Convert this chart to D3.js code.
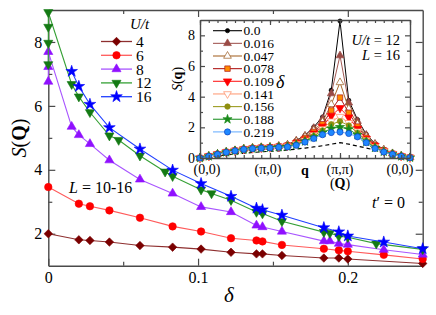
<!DOCTYPE html>
<html>
<head>
<meta charset="utf-8">
<script src="https://cdn.jsdelivr.net/npm/d3@7"></script>
<style>
body { margin: 0; background: #fff; }
</style>
</head>
<body>
<svg id="chart" width="436" height="315"></svg>
<script>
// ---- main panel: S(Q) vs doping, one series per U/t
var uLabels = ["4", "6", "8", "12", "16"];

var deltaU4 = [0, 0.0204, 0.0278, 0.0408, 0.0612, 0.083, 0.102, 0.122, 0.139, 0.143, 0.156, 0.184, 0.194, 0.2, 0.25];
var sU4 = [2.0, 1.81, 1.79, 1.74, 1.63, 1.58, 1.52, 1.42, 1.37, 1.37, 1.32, 1.24, 1.24, 1.21, 1.07];

var deltaU6 = [0, 0.0204, 0.0278, 0.0408, 0.0612, 0.083, 0.102, 0.122, 0.139, 0.143, 0.156, 0.184, 0.194, 0.2, 0.224, 0.25];
var sU6 = [3.46, 2.94, 2.86, 2.73, 2.50, 2.23, 2.07, 1.86, 1.79, 1.76, 1.65, 1.53, 1.48, 1.45, 1.34, 1.21];

var deltaU8 = [0, 0, 0, 0.0156, 0.0204, 0.0278, 0.0408, 0.0612, 0.083, 0.102, 0.122, 0.139, 0.143, 0.156, 0.184, 0.188, 0.194, 0.2, 0.224, 0.25];
var sU8 = [6.76, 7.22, 7.69, 5.35, 5.09, 4.81, 4.30, 3.70, 3.26, 2.84, 2.68, 2.26, 2.21, 2.07, 1.77, 1.77, 1.69, 1.66, 1.50, 1.35];

var deltaU12 = [0, 0, 0, 0, 0.0156, 0.0204, 0.0278, 0.0408, 0.047, 0.0612, 0.078, 0.083, 0.102, 0.109, 0.122, 0.139, 0.143, 0.156, 0.184, 0.188, 0.194, 0.2, 0.219, 0.25];
var sU12 = [7.30, 7.97, 8.47, 8.93, 6.68, 6.29, 5.80, 5.07, 4.93, 4.44, 3.94, 3.80, 3.38, 3.26, 3.05, 2.68, 2.63, 2.39, 2.05, 2.02, 1.92, 1.89, 1.69, 1.51];

var deltaU16 = [0.0156, 0.0204, 0.0278, 0.0408, 0.0612, 0.083, 0.102, 0.122, 0.139, 0.143, 0.156, 0.184, 0.194, 0.2, 0.224, 0.25];
var sU16 = [7.08, 6.61, 6.05, 5.32, 4.65, 3.99, 3.57, 3.17, 2.80, 2.75, 2.58, 2.19, 2.06, 1.93, 1.74, 1.53];

var xMajor = [0, 0.1, 0.2];
var xMinor = [0.05, 0.15];
var yMajor = [2, 4, 6, 8];
var yMinor = [3, 5, 7];

// ---- inset: S(q) along (0,0)-(pi,0)-(pi,pi)-(0,0), U/t=12, L=16
var qLabels = ["(0,0)", "(\u03c0,0)", "(\u03c0,\u03c0)", "(0,0)"];
var qLabelIdx = [0, 8, 16, 24];
var deltaLabels = ["0.0", "0.016", "0.047", "0.078", "0.109", "0.141", "0.156", "0.188", "0.219"];

var sqD000 = [0.00,0.12,0.26,0.40,0.50,0.60,0.66,0.70,0.72,0.78,0.86,1.15,1.48,2.02,2.67,4.42,8.93,3.76,2.50,1.55,0.94,0.55,0.30,0.14,0.03];
var sqD016 = [0.00,0.12,0.26,0.40,0.50,0.60,0.66,0.70,0.72,0.78,0.86,1.13,1.45,1.95,2.55,4.20,6.68,3.60,2.40,1.50,0.92,0.54,0.30,0.14,0.03];
var sqD047 = [0.00,0.12,0.26,0.39,0.49,0.59,0.65,0.69,0.71,0.77,0.84,1.08,1.38,1.80,2.35,3.50,4.93,3.20,2.20,1.40,0.88,0.52,0.29,0.13,0.03];
var sqD078 = [0.00,0.12,0.25,0.39,0.48,0.58,0.64,0.68,0.70,0.75,0.82,1.02,1.30,1.70,2.20,3.10,3.94,2.95,2.05,1.32,0.84,0.50,0.28,0.13,0.03];
var sqD109 = [0.00,0.12,0.25,0.38,0.48,0.58,0.63,0.67,0.69,0.74,0.80,0.97,1.22,1.60,2.05,2.75,3.26,2.65,1.90,1.25,0.80,0.47,0.27,0.12,0.03];
var sqD141 = [0.00,0.11,0.25,0.38,0.47,0.57,0.62,0.66,0.68,0.73,0.78,0.93,1.16,1.50,1.90,2.40,2.70,2.30,1.75,1.18,0.74,0.45,0.26,0.12,0.02];
var sqD156 = [0.00,0.11,0.24,0.38,0.47,0.57,0.62,0.65,0.68,0.72,0.76,0.90,1.12,1.43,1.80,2.20,2.39,2.12,1.65,1.12,0.70,0.43,0.25,0.12,0.02];
var sqD188 = [0.00,0.11,0.24,0.37,0.46,0.56,0.61,0.65,0.67,0.71,0.74,0.86,1.08,1.35,1.65,1.92,2.02,1.88,1.50,1.05,0.66,0.41,0.25,0.11,0.02];
var sqD219 = [0.00,0.11,0.24,0.37,0.46,0.56,0.61,0.64,0.66,0.70,0.72,0.83,1.04,1.27,1.52,1.66,1.69,1.60,1.38,1.00,0.62,0.39,0.24,0.11,0.02];
// dashed reference curve
var sqRef = [0.00,0.07,0.14,0.20,0.26,0.31,0.36,0.40,0.44,0.47,0.52,0.58,0.65,0.72,0.80,0.90,1.00,0.90,0.78,0.65,0.52,0.40,0.28,0.16,0.05];

var axisColor = "#4a4a4a";
var serif = "Liberation Serif";

// diamond that is as wide as it is tall
var symDiamond = {
  draw: function(ctx, size) {
    var r = Math.sqrt(size / 2);
    ctx.moveTo(0, -r); ctx.lineTo(r, 0); ctx.lineTo(0, r); ctx.lineTo(-r, 0); ctx.closePath();
  }
};

var svg = d3.select("#chart");

var x = d3.scaleLinear().domain([0, 0.25]).range([48.3, 422.7]);
var y = d3.scaleLinear().domain([1, 9]).range([265.7, 10]);

var mainSeries = [
  {name: uLabels[0], d: deltaU4, s: sU4, line: "#8e2f2f", fill: "#7a0000", stroke: "#7a0000", sym: symDiamond, size: 36, rot: 0},
  {name: uLabels[1], d: deltaU6, s: sU6, line: "#ff5a5a", fill: "#ff0000", stroke: "#ff0000", sym: d3.symbolCircle, size: 44, rot: 0},
  {name: uLabels[2], d: deltaU8, s: sU8, line: "#a855ff", fill: "#9010ff", stroke: "#9010ff", sym: d3.symbolTriangle, size: 36, rot: 0},
  {name: uLabels[3], d: deltaU12, s: sU12, line: "#35a035", fill: "#147a14", stroke: "#147a14", sym: d3.symbolTriangle, size: 36, rot: 180},
  {name: uLabels[4], d: deltaU16, s: sU16, line: "#2040ff", fill: "#0000ff", stroke: "#0000ff", sym: d3.symbolStar, size: 42, rot: 0}
];

// axes, ticks inward on all four sides
function frameAxes(g, xs, ys, xTicks, xMinorTicks, yTicks, yMinorTicks, major, minor, labels) {
  var x0 = xs.range()[0], x1 = xs.range()[1], y0 = ys.range()[0], y1 = ys.range()[1];
  var sides = [
    {a: d3.axisBottom(xs), t: "translate(0," + y0 + ")", ticks: xTicks, minorTicks: xMinorTicks, lab: labels},
    {a: d3.axisTop(xs), t: "translate(0," + y1 + ")", ticks: xTicks, minorTicks: xMinorTicks, lab: false},
    {a: d3.axisLeft(ys), t: "translate(" + x0 + ",0)", ticks: yTicks, minorTicks: yMinorTicks, lab: labels},
    {a: d3.axisRight(ys), t: "translate(" + x1 + ",0)", ticks: yTicks, minorTicks: yMinorTicks, lab: false}
  ];
  sides.forEach(function(sd) {
    var ga = g.append("g").attr("transform", sd.t)
      .call(sd.a.tickValues(sd.ticks).tickSizeInner(-major).tickSizeOuter(0).tickPadding(6)
        .tickFormat(sd.lab ? d3.format("") : ""));
    ga.attr("font-size", 16);
    ga.select(".domain").attr("stroke", axisColor).attr("stroke-width", 1.4);
    ga.selectAll(".tick line").attr("stroke", axisColor).attr("stroke-width", 1.2);
    ga.selectAll("text").attr("fill", "#000");
    var gm = g.append("g").attr("transform", sd.t)
      .call(sd.a.tickValues(sd.minorTicks).tickSizeInner(-minor).tickSizeOuter(0).tickFormat(""));
    gm.select(".domain").remove();
    gm.selectAll(".tick line").attr("stroke", axisColor).attr("stroke-width", 1.2);
  });
}

var gMain = svg.append("g");
frameAxes(gMain, x, y, xMajor, xMinor, yMajor, yMinor, 7, 4, true);

var line = d3.line().x(function(p) { return x(p[0]); }).y(function(p) { return y(p[1]); });

mainSeries.forEach(function(sr) {
  var pts = sr.d.map(function(dv, i) { return [dv, sr.s[i]]; });
  gMain.append("path").attr("d", line(pts)).attr("fill", "none")
    .attr("stroke", sr.line).attr("stroke-width", 1.1);
  gMain.selectAll(null).data(pts).enter().append("path")
    .attr("d", d3.symbol().type(sr.sym).size(sr.size))
    .attr("transform", function(p) { return "translate(" + x(p[0]) + "," + y(p[1]) + ") rotate(" + sr.rot + ")"; })
    .attr("fill", sr.fill).attr("stroke", sr.stroke).attr("stroke-width", 0.6);
});

// main legend
var leg = gMain.append("g");
leg.append("text").attr("x", 130).attr("y", 29).attr("font-size", 15).attr("font-style", "italic").text("U/t");
mainSeries.forEach(function(sr, i) {
  var ly = 41.5 + i * 13.8;
  leg.append("line").attr("x1", 101).attr("x2", 132).attr("y1", ly).attr("y2", ly)
    .attr("stroke", sr.line).attr("stroke-width", 1.3);
  leg.append("path").attr("d", d3.symbol().type(sr.sym).size(sr.size))
    .attr("transform", "translate(116.5," + ly + ") rotate(" + sr.rot + ")")
    .attr("fill", sr.fill).attr("stroke", sr.stroke).attr("stroke-width", 0.6);
  leg.append("text").attr("x", 136).attr("y", ly).attr("dy", "0.35em").attr("font-size", 15.5).text(sr.name);
});

// axis titles and notes
var yt = svg.append("text").attr("transform", "translate(26,138) rotate(-90)")
  .attr("text-anchor", "middle").attr("font-size", 20);
yt.append("tspan").attr("font-style", "italic").text("S");
yt.append("tspan").text("(");
yt.append("tspan").attr("font-weight", "bold").text("Q");
yt.append("tspan").text(")");

svg.append("text").attr("x", 229).attr("y", 302).attr("text-anchor", "middle")
  .attr("font-size", 21).attr("font-style", "italic").text("\u03b4");

var lt = svg.append("text").attr("x", 69).attr("y", 193).attr("font-size", 16);
lt.append("tspan").attr("font-style", "italic").text("L");
lt.append("tspan").text(" = 10-16");

var tt = svg.append("text").attr("x", 372).attr("y", 208).attr("font-size", 16);
tt.append("tspan").attr("font-style", "italic").text("t");
tt.append("tspan").text("\u2032 = 0");

// ---- inset
var xi = d3.scaleLinear().domain([0, 24]).range([200, 410]);
var yi = d3.scaleLinear().domain([0, 9]).range([158, 20]);

var gIn = svg.append("g");
gIn.append("rect").attr("x", 200).attr("y", 20).attr("width", 210).attr("height", 138).attr("fill", "#fff");

var insetSeries = [
  {name: deltaLabels[0], s: sqD000, line: "#000000", fill: "#000000", stroke: "#000000", sym: d3.symbolCircle, size: 14, rot: 0},
  {name: deltaLabels[1], s: sqD016, line: "#a35a55", fill: "#9a4a45", stroke: "#9a4a45", sym: d3.symbolTriangle, size: 26, rot: 0},
  {name: deltaLabels[2], s: sqD047, line: "#a8682c", fill: "#ffffff", stroke: "#9a5a20", sym: d3.symbolTriangle, size: 26, rot: 0},
  {name: deltaLabels[3], s: sqD078, line: "#b01a1a", fill: "#ff8c00", stroke: "#b01a1a", sym: d3.symbolSquare, size: 30, rot: 0},
  {name: deltaLabels[4], s: sqD109, line: "#ff2020", fill: "#ff0000", stroke: "#ff0000", sym: d3.symbolTriangle, size: 30, rot: 180},
  {name: deltaLabels[5], s: sqD141, line: "#ff9f7a", fill: "#ffffff", stroke: "#ff8a60", sym: d3.symbolTriangle, size: 26, rot: 180},
  {name: deltaLabels[6], s: sqD156, line: "#9c9c22", fill: "#8f8f10", stroke: "#8f8f10", sym: d3.symbolCircle, size: 24, rot: 0},
  {name: deltaLabels[7], s: sqD188, line: "#23942a", fill: "#1a8a1a", stroke: "#1a8a1a", sym: d3.symbolStar, size: 26, rot: 0},
  {name: deltaLabels[8], s: sqD219, line: "#6fb0ff", fill: "#1e88ff", stroke: "#1040c0", sym: d3.symbolCircle, size: 30, rot: 0}
];

var qIdx = d3.range(sqRef.length);
var lineIn = d3.line().x(function(p) { return xi(p[0]); }).y(function(p) { return yi(p[1]); });

gIn.append("path").attr("d", lineIn(qIdx.map(function(i) { return [i, sqRef[i]]; })))
  .attr("fill", "none").attr("stroke", "#000").attr("stroke-width", 1.2).attr("stroke-dasharray", "4,3");

insetSeries.forEach(function(sr) {
  var pts = qIdx.map(function(i) { return [i, sr.s[i]]; });
  gIn.append("path").attr("d", lineIn(pts)).attr("fill", "none")
    .attr("stroke", sr.line).attr("stroke-width", 1);
  gIn.selectAll(null).data(pts).enter().append("path")
    .attr("d", d3.symbol().type(sr.sym).size(sr.size))
    .attr("transform", function(p) { return "translate(" + xi(p[0]) + "," + yi(p[1]) + ") rotate(" + sr.rot + ")"; })
    .attr("fill", sr.fill).attr("stroke", sr.stroke).attr("stroke-width", 0.7);
});

frameAxes(gIn, xi, yi, qLabelIdx, qIdx, [0, 2, 4, 6, 8], [1, 3, 5, 7], 5, 3, false);

// inset tick labels
[0, 2, 4, 6, 8].forEach(function(v) {
  gIn.append("text").attr("x", 195).attr("y", yi(v)).attr("dy", "0.35em")
    .attr("text-anchor", "end").attr("font-size", 14).text(v);
});
var qShift = [7, -2, 0, -10];
qLabels.forEach(function(lab, i) {
  gIn.append("text").attr("x", xi(qLabelIdx[i]) + qShift[i]).attr("y", 174)
    .attr("text-anchor", "middle").attr("font-size", 14).text(lab);
});
gIn.append("text").attr("x", 305).attr("y", 175).attr("text-anchor", "middle")
  .attr("font-size", 14).attr("font-weight", "bold").text("q");
var qq = gIn.append("text").attr("x", xi(16)).attr("y", 188).attr("text-anchor", "middle").attr("font-size", 14);
qq.append("tspan").text("(");
qq.append("tspan").attr("font-weight", "bold").text("Q");
qq.append("tspan").text(")");

var yti = gIn.append("text").attr("transform", "translate(182,79) rotate(-90)")
  .attr("text-anchor", "middle").attr("font-size", 14);
yti.append("tspan").attr("font-style", "italic").text("S");
yti.append("tspan").text("(");
yti.append("tspan").attr("font-weight", "bold").text("q");
yti.append("tspan").text(")");

// inset legend
insetSeries.forEach(function(sr, i) {
  var ly = 30.7 + i * 12.65;
  gIn.append("line").attr("x1", 213).attr("x2", 242).attr("y1", ly).attr("y2", ly)
    .attr("stroke", sr.line).attr("stroke-width", 1.1);
  gIn.append("path").attr("d", d3.symbol().type(sr.sym).size(sr.size))
    .attr("transform", "translate(227.5," + ly + ") rotate(" + sr.rot + ")")
    .attr("fill", sr.fill).attr("stroke", sr.stroke).attr("stroke-width", 0.7);
  gIn.append("text").attr("x", 243.5).attr("y", ly).attr("dy", "0.35em").attr("font-size", 13.5).text(sr.name);
});
gIn.append("text").attr("x", 276).attr("y", 88).attr("font-size", 18).attr("font-style", "italic").text("\u03b4");

var ut = gIn.append("text").attr("x", 400).attr("y", 45).attr("text-anchor", "end").attr("font-size", 14.5);
ut.append("tspan").attr("font-style", "italic").text("U/t");
ut.append("tspan").text(" = 12");
var lt2 = gIn.append("text").attr("x", 400).attr("y", 60).attr("text-anchor", "end").attr("font-size", 14.5);
lt2.append("tspan").attr("font-style", "italic").text("L");
lt2.append("tspan").text(" = 16");

// every text in the Times-like face
svg.selectAll("text").style("font-family", serif);
</script>
</body>
</html>
